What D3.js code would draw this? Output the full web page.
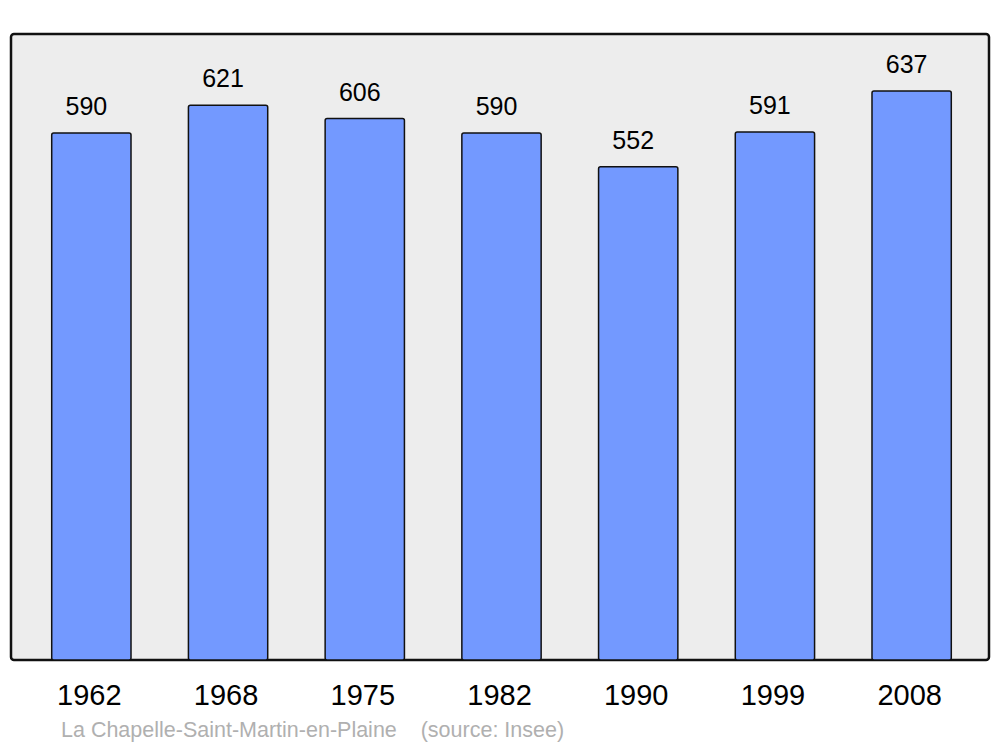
<!DOCTYPE html>
<html>
  <head>
    <script src="https://cdn.jsdelivr.net/npm/d3@7"></script>
    <style>
      body { margin: 0; background: #fff; }
    </style>
  </head>
  <body>
    <svg width="1000" height="747" id="mainsvg"></svg>
    <script>
      const years = ["1962", "1968", "1975", "1982", "1990", "1999", "2008"];
      const population = [590, 621, 606, 590, 552, 591, 637];
      const footer = "La Chapelle-Saint-Martin-en-Plaine    (source: Insee)";

      const svg = d3.select("#mainsvg");
      const panel = { left: 11, top: 34, right: 989, bottom: 660 };

      const xScale = d3
        .scaleBand()
        .domain(years)
        .range([23, 980])
        .paddingInner(0.42)
        .paddingOuter(0.21);

      const yScale = d3
        .scaleLinear()
        .domain([0, d3.max(population) * 1.1])
        .range([panel.bottom, panel.top]);

      svg.append("rect")
        .attr("x", panel.left)
        .attr("y", panel.top)
        .attr("width", panel.right - panel.left)
        .attr("height", panel.bottom - panel.top)
        .attr("rx", 3)
        .attr("fill", "#ededed")
        .attr("stroke", "#111")
        .attr("stroke-width", 2.5);

      const rows = years.map((y, i) => ({ year: y, value: population[i] }));

      svg.selectAll(".bar")
        .data(rows)
        .join("rect")
        .attr("class", "bar")
        .attr("x", (d) => xScale(d.year))
        .attr("y", (d) => yScale(d.value))
        .attr("width", xScale.bandwidth())
        .attr("height", (d) => yScale(0) - yScale(d.value))
        .attr("rx", 2)
        .attr("fill", "#7399ff")
        .attr("stroke", "#111")
        .attr("stroke-width", 1.5);

      svg.selectAll(".val")
        .data(rows)
        .join("text")
        .attr("class", "val")
        .attr("x", (d) => xScale(d.year) + xScale.bandwidth() / 2 - 5)
        .attr("y", (d) => yScale(d.value) - 18)
        .attr("text-anchor", "middle")
        .attr("font-family", "Liberation Sans, Arial, sans-serif")
        .attr("font-size", 25)
        .attr("fill", "#000")
        .text((d) => d.value);

      // x axis: labels only, no line or ticks
      const xAxis = d3.axisBottom(xScale).tickSize(0).tickPadding(0);
      const ax = svg.append("g")
        .attr("transform", `translate(-2, ${panel.bottom})`)
        .call(xAxis);
      ax.select(".domain").remove();
      ax.selectAll(".tick text")
        .attr("y", 45)
        .attr("dy", 0)
        .attr("font-family", "Liberation Sans, Arial, sans-serif")
        .attr("font-size", 29)
        .attr("fill", "#000");

      svg.append("text")
        .attr("x", 61)
        .attr("y", 737)
        .attr("font-family", "Liberation Sans, Arial, sans-serif")
        .attr("font-size", 21.5)
        .attr("fill", "#b0b0b0")
        .attr("xml:space", "preserve")
        .style("white-space", "pre")
        .text(footer);
    </script>
  </body>
</html>
